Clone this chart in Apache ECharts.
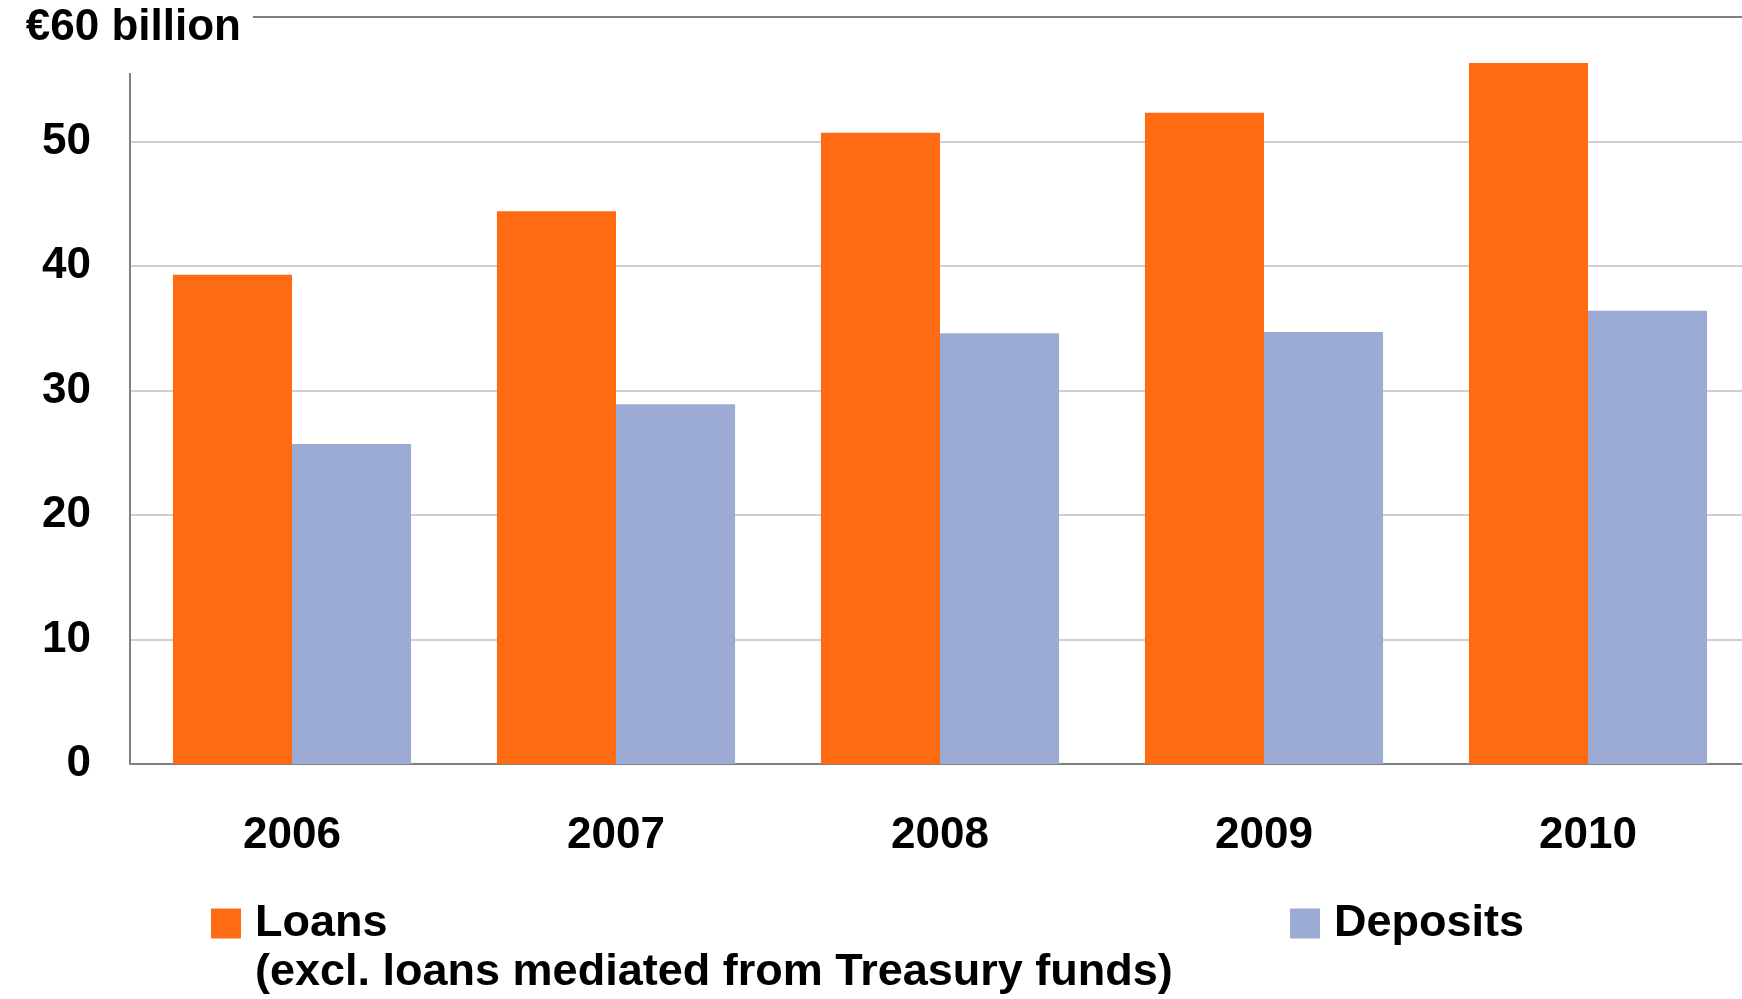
<!DOCTYPE html>
<html>
<head>
<meta charset="utf-8">
<script src="https://cdn.jsdelivr.net/npm/echarts@6/dist/echarts.min.js"></script>
<style>
  html, body { margin: 0; padding: 0; background: #ffffff; overflow: hidden; }
  #chart { width: 1760px; height: 999px; }
</style>
</head>
<body>
<div id="chart"></div>
<script>
// Loans and deposits, € billion, by year
const years = ['2006', '2007', '2008', '2009', '2010'];
const loans = [39.3, 44.4, 50.7, 52.3, 56.3];
const deposits = [25.7, 28.9, 34.6, 34.7, 36.4];
const seriesNames = ['Loans', 'Deposits'];
const loansNote = '(excl. loans mediated from Treasury funds)';
const unitLabel = '€60 billion';
const yTicks = [0, 10, 20, 30, 40, 50, 60];

const FONT = '"Liberation Sans", Arial, Helvetica, sans-serif';
const ORANGE = '#FF6B12';
const BLUE = '#9BABD4';
const AXIS_GRAY = '#808080';
const GRID_GRAY = '#cfcfcf';

const yMin = yTicks[0];
const yMax = yTicks[yTicks.length - 1];
const yStep = yTicks[1] - yTicks[0];

const chart = echarts.init(document.getElementById('chart'), null, { renderer: 'canvas' });

// every split line except the top one is light grey; the top line is drawn separately
const splitColors = yTicks.map((t, i) => i === yTicks.length - 1 ? 'rgba(0,0,0,0)' : GRID_GRAY);

chart.setOption({
  animation: false,
  backgroundColor: '#ffffff',
  textStyle: { fontFamily: FONT },
  grid: { left: 130, top: 17, width: 1620, height: 747, containLabel: false },
  xAxis: {
    type: 'category',
    data: years,
    axisLine: { show: true, lineStyle: { color: AXIS_GRAY, width: 2 } },
    axisTick: { show: false },
    axisLabel: { margin: 50, fontSize: 44, fontWeight: 'bold', color: '#000', fontFamily: FONT },
    splitLine: { show: false }
  },
  yAxis: {
    type: 'value',
    min: yMin,
    max: yMax,
    interval: yStep,
    axisLine: { show: false },
    axisTick: { show: false },
    axisLabel: {
      margin: 39, fontSize: 44, fontWeight: 'bold', color: '#000', fontFamily: FONT,
      formatter: v => (v === yMax ? '' : String(v))
    },
    splitLine: { show: true, lineStyle: { color: splitColors, width: 2 } }
  },
  legend: [
    {
      data: [seriesNames[0]],
      left: 211, top: 901, padding: 0,
      itemWidth: 30, itemHeight: 30, icon: 'rect',
      textStyle: { fontSize: 45, fontWeight: 'bold', color: '#000', fontFamily: FONT, padding: [0, 0, 0, 9] }
    },
    {
      data: [seriesNames[1]],
      left: 1290, top: 901, padding: 0,
      itemWidth: 30, itemHeight: 30, icon: 'rect',
      textStyle: { fontSize: 45, fontWeight: 'bold', color: '#000', fontFamily: FONT, padding: [0, 0, 0, 9] }
    }
  ],
  series: [
    {
      name: seriesNames[0], type: 'bar', data: loans,
      itemStyle: { color: ORANGE },
      barGap: '0%', barCategoryGap: '26.5%'
    },
    {
      name: seriesNames[1], type: 'bar', data: deposits,
      itemStyle: { color: BLUE },
      barGap: '0%', barCategoryGap: '26.5%'
    }
  ]
});

// decorations placed from the axes' own scales
const yTop = chart.convertToPixel({ yAxisIndex: 0 }, yMax);
const yZero = chart.convertToPixel({ yAxisIndex: 0 }, yMin);
const xLeft = 130;
chart.setOption({
  graphic: [
    {
      type: 'line',
      shape: { x1: 253, y1: yTop, x2: 1760, y2: yTop },
      style: { stroke: AXIS_GRAY, lineWidth: 2 }
    },
    {
      type: 'line',
      shape: { x1: xLeft, y1: yTop + 56, x2: xLeft, y2: yZero },
      style: { stroke: AXIS_GRAY, lineWidth: 2 }
    },
    {
      type: 'text',
      style: {
        text: unitLabel, x: 241, y: yTop + 11,
        align: 'right', verticalAlign: 'middle',
        font: 'bold 44px ' + FONT, fill: '#000'
      }
    },
    {
      type: 'text',
      style: {
        text: loansNote, x: 255, y: 973,
        align: 'left', verticalAlign: 'middle',
        font: 'bold 45px ' + FONT, fill: '#000'
      }
    }
  ]
});
</script>
</body>
</html>
